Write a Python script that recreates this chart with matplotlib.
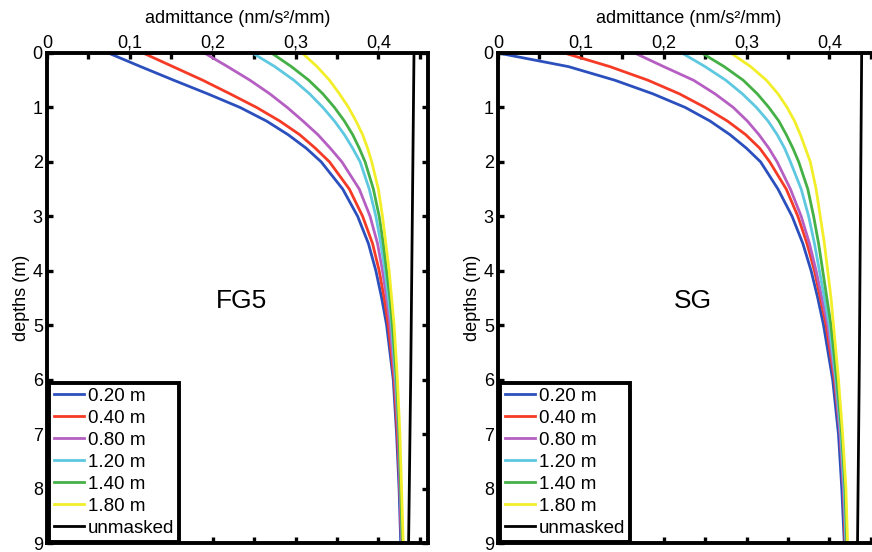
import matplotlib
matplotlib.use('Agg')
import matplotlib.pyplot as plt

plt.rcParams['font.family'] = ['Liberation Sans', 'DejaVu Sans']

# Depth grid (m)
depths = [0, 0.25, 0.5, 0.75, 1, 1.25, 1.5, 1.75, 2, 2.5, 3, 3.5, 4, 4.5, 5, 6, 7, 8, 9]

# Mask radius labels
labels = ['0.20 m', '0.40 m', '0.80 m', '1.20 m', '1.40 m', '1.80 m']
colors = ['#2b4fbd', '#f53b26', '#b65fc2', '#5ec8e0', '#45b045', '#f2ee2a']

# FG5 admittance (nm/s^2/mm) per mask
fg5_020 = [0.074, 0.113, 0.153, 0.194, 0.233, 0.265, 0.291, 0.313, 0.331, 0.357, 0.375, 0.388, 0.397, 0.404, 0.410, 0.418, 0.422, 0.425, 0.427]
fg5_040 = [0.116, 0.152, 0.188, 0.221, 0.253, 0.281, 0.305, 0.324, 0.341, 0.365, 0.381, 0.393, 0.401, 0.407, 0.412, 0.419, 0.423, 0.426, 0.428]
fg5_080 = [0.190, 0.218, 0.245, 0.269, 0.290, 0.309, 0.327, 0.342, 0.356, 0.377, 0.390, 0.399, 0.405, 0.410, 0.414, 0.420, 0.424, 0.426, 0.428]
fg5_120 = [0.248, 0.275, 0.298, 0.317, 0.333, 0.347, 0.359, 0.369, 0.378, 0.389, 0.397, 0.403, 0.408, 0.412, 0.416, 0.421, 0.425, 0.427, 0.429]
fg5_140 = [0.271, 0.295, 0.316, 0.333, 0.347, 0.359, 0.369, 0.377, 0.384, 0.394, 0.401, 0.406, 0.410, 0.414, 0.417, 0.422, 0.425, 0.427, 0.429]
fg5_180 = [0.308, 0.326, 0.341, 0.353, 0.364, 0.373, 0.381, 0.387, 0.392, 0.400, 0.405, 0.409, 0.413, 0.416, 0.419, 0.423, 0.426, 0.428, 0.430]

# SG admittance per mask
sg_020 = [0.000, 0.085, 0.141, 0.187, 0.226, 0.256, 0.280, 0.300, 0.317, 0.338, 0.355, 0.368, 0.378, 0.386, 0.393, 0.404, 0.411, 0.415, 0.418]
sg_040 = [0.080, 0.135, 0.181, 0.219, 0.250, 0.277, 0.299, 0.316, 0.328, 0.348, 0.362, 0.373, 0.382, 0.389, 0.396, 0.406, 0.413, 0.417, 0.419]
sg_080 = [0.165, 0.200, 0.236, 0.262, 0.284, 0.301, 0.315, 0.327, 0.337, 0.353, 0.366, 0.376, 0.384, 0.391, 0.398, 0.407, 0.413, 0.417, 0.420]
sg_120 = [0.222, 0.250, 0.275, 0.295, 0.312, 0.326, 0.337, 0.346, 0.353, 0.366, 0.375, 0.382, 0.388, 0.394, 0.400, 0.408, 0.414, 0.418, 0.420]
sg_140 = [0.246, 0.273, 0.296, 0.313, 0.327, 0.339, 0.348, 0.356, 0.363, 0.374, 0.381, 0.387, 0.392, 0.397, 0.402, 0.409, 0.415, 0.419, 0.421]
sg_180 = [0.281, 0.305, 0.324, 0.338, 0.349, 0.358, 0.365, 0.371, 0.377, 0.384, 0.389, 0.394, 0.398, 0.402, 0.405, 0.411, 0.416, 0.420, 0.422]

# Unmasked admittance
unmasked_depths = [0, 3, 6, 9]
fg5_unmasked = [0.443, 0.441, 0.439, 0.4365]
sg_unmasked = [0.439, 0.4375, 0.436, 0.434]

# Axis ticks
x_ticks = [0, 0.05, 0.1, 0.15, 0.2, 0.25, 0.3, 0.35, 0.4, 0.45]
x_ticklabels = ['0', '', '0,1', '', '0,2', '', '0,3', '', '0,4', '']
y_ticks = [0, 1, 2, 3, 4, 5, 6, 7, 8, 9]

panels = [
    ('FG5', [fg5_020, fg5_040, fg5_080, fg5_120, fg5_140, fg5_180], fg5_unmasked, 0.0539),
    ('SG', [sg_020, sg_040, sg_080, sg_120, sg_140, sg_180], sg_unmasked, 0.5711),
]

fig = plt.figure(figsize=(8.72, 5.52), dpi=100)

for name, series, unmasked, left in panels:
    ax = fig.add_axes([left, 0.0163, 0.437, 0.8877])
    for vals, lab, col in zip(series, labels, colors):
        ax.plot(vals, depths, color=col, lw=2.0, label=lab)
    ax.plot(unmasked, unmasked_depths, color='black', lw=2.0, label='unmasked')

    ax.set_xlim(0, 0.46)
    ax.set_ylim(9, 0)
    ax.xaxis.set_ticks_position('both')
    ax.xaxis.set_label_position('top')
    ax.tick_params(axis='x', labeltop=True, labelbottom=False)
    ax.yaxis.set_ticks_position('both')
    ax.set_xticks(x_ticks)
    ax.set_xticklabels(x_ticklabels)
    ax.set_yticks(y_ticks)
    ax.tick_params(direction='in', length=4, width=2.4, labelsize=13, pad=1)
    ax.tick_params(axis='y', pad=3)
    for sp in ax.spines.values():
        sp.set_linewidth(2.8)

    ax.set_xlabel('admittance (nm/s²/mm)', fontsize=13, labelpad=8)
    ax.set_ylabel('depths (m)', fontsize=13, labelpad=2)
    ax.text(0.235, 4.55, name, fontsize=19, ha='center', va='center')

    leg = ax.legend(loc='lower left', bbox_to_anchor=(0.006, 0.003), borderaxespad=0,
                    fontsize=13.5, handlelength=1.6, handletextpad=0.2,
                    labelspacing=0.26, borderpad=0.25, fancybox=False,
                    framealpha=1, edgecolor='black')
    leg.get_frame().set_linewidth(2.8)

fig.savefig('out.png', dpi=100, facecolor='white')
